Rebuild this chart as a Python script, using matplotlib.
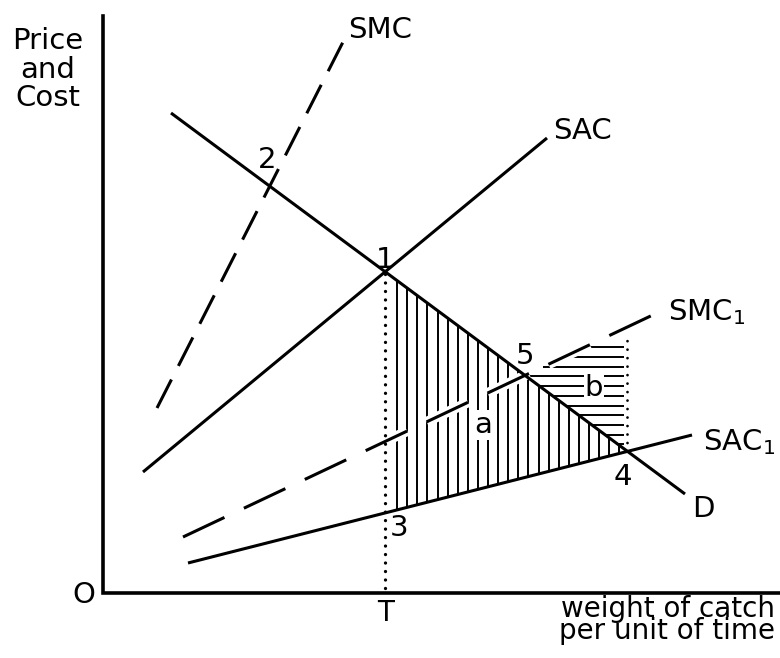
import numpy as np
import matplotlib
matplotlib.use("Agg")
import matplotlib.pyplot as plt
import matplotlib.patheffects as pe

plt.rcParams['font.family'] = ['DejaVu Sans']
plt.rcParams['mathtext.fontset'] = 'dejavusans'
plt.rcParams['lines.scale_dashes'] = False

# ---- data (quantity, price/cost) ----
curve_names = ["D", "SAC", "SMC", "SAC1", "SMC1"]
x_start = [68, 40, 54, 85, 80]
y_start = [480, 121, 185, 30, 56]
x_end = [582, 444, 240, 589, 554]
y_end = [99, 455, 551, 158, 280]
curve_labels = ["D", "SAC", "SMC", "SAC$_1$", "SMC$_1$"]
q_b_end = 524          # right edge of area b
y_axis_top = 577
x_axis_right = 677
point_labels = ["1", "2", "3", "4", "5"]
region_labels = ["a", "b"]
x_axis_title = ["weight of catch", "per unit of time"]
y_axis_title = ["Price", "and", "Cost"]

# ---- line algebra ----
m = {}
b = {}
for n, x0, y0, x1, y1 in zip(curve_names, x_start, y_start, x_end, y_end):
    m[n] = (y1 - y0) / (x1 - x0)
    b[n] = y0 - m[n] * x0

def f(n, x):
    return m[n] * np.asarray(x, dtype=float) + b[n]

def finv(n, y):
    return (np.asarray(y, dtype=float) - b[n]) / m[n]

def inter(n1, n2):
    x = (b[n2] - b[n1]) / (m[n1] - m[n2])
    return x, f(n1, x)

P1 = inter("D", "SAC")
P2 = inter("D", "SMC")
T = P1[0]
P3 = (T, float(f("SAC1", T)))
P4 = inter("D", "SAC1")
P5 = inter("D", "SMC1")

fig = plt.figure(figsize=(7.8, 6.58), dpi=100)
ax = fig.add_axes([0, 0, 1, 1])
ax.set_xlim(-103, 677)
ax.set_ylim(-65, 593)
ax.axis('off')

# axes
ax.plot([0, 0, x_axis_right], [y_axis_top, 0, 0], color='k', lw=2.6,
        solid_joinstyle='miter', zorder=6)

lw = 2.2
styles = {
    "D": '-',
    "SAC": '-',
    "SAC1": '-',
    "SMC": (0, (23, 11)),
    "SMC1": (0, (33, 15.5)),
}
for n, x0, y0, x1, y1 in zip(curve_names, x_start, y_start, x_end, y_end):
    kw = dict(color='k', lw=lw, solid_capstyle='butt', dash_capstyle='butt', zorder=5)
    if n == "SMC1":
        kw['zorder'] = 3
        kw['path_effects'] = [pe.Stroke(linewidth=lw + 5, foreground='white'), pe.Normal()]
    ax.plot([x0, x1], [y0, y1], linestyle=styles[n], **kw)

# dotted verticals
dot = (0, (0.01, 6.1))
ax.plot([T, T], [5, P1[1]], color='k', lw=2.4, linestyle=dot,
        dash_capstyle='round', zorder=5)
ax.plot([q_b_end, q_b_end], [P4[1], f("SMC1", q_b_end) - 6], color='k', lw=2.0,
        linestyle=dot, dash_capstyle='round', zorder=5)

# area a: vertical hatching
xs_v = np.arange(T + 12, P4[0] - 3, 10.1)
ax.vlines(xs_v, f("SAC1", xs_v), f("D", xs_v), color='k', lw=1.4, zorder=1)

# area b: horizontal hatching
ys_h = np.arange(P4[1] + 7, f("SMC1", q_b_end) - 15, 9.7)
left = np.maximum(finv("SMC1", ys_h), finv("D", ys_h))
ax.hlines(ys_h, left, q_b_end - 3, color='k', lw=1.4, zorder=1)

fs = 21
# curve labels
lab_off = {"D": (7, -23), "SAC": (6, -1), "SMC": (5, 4), "SAC1": (11, -15), "SMC1": (11, -7)}
for n, lab, x1, y1 in zip(curve_names, curve_labels, x_end, y_end):
    dx, dy = lab_off[n]
    ax.text(x1 + dx, y1 + dy, lab, fontsize=fs, ha='left', va='baseline', zorder=7)

# point labels
pts = [P1, P2, P3, P4, P5]
pt_off = [(0, 12), (-3, 26), (14, -15), (-5, -26), (0, 19)]
for lab, p, (dx, dy) in zip(point_labels, pts, pt_off):
    ax.text(p[0] + dx, p[1] + dy, lab, fontsize=fs, ha='center', va='center', zorder=7)

# region labels
ax.text(380, 168, region_labels[0], fontsize=fs, ha='center', va='center', zorder=7,
        bbox=dict(facecolor='white', edgecolor='none', pad=0.5))
ax.text(491, 205, region_labels[1], fontsize=fs, ha='center', va='center', zorder=7,
        bbox=dict(facecolor='white', edgecolor='none', pad=0.5))

# axis labels
ax.text(-19, -2, "O", fontsize=fs, ha='center', va='center')
ax.text(T, -20, "T", fontsize=fs - 1, ha='center', va='center')
for i, s in enumerate(y_axis_title):
    ax.text(-55, 544 - 28.5 * i, s, fontsize=fs, ha='center', va='baseline')
ax.text(672, -46, "\n".join(x_axis_title), fontsize=fs - 1, ha='right',
        va='baseline', multialignment='right', linespacing=0.72)

fig.savefig("out.png", dpi=100, facecolor='white')
